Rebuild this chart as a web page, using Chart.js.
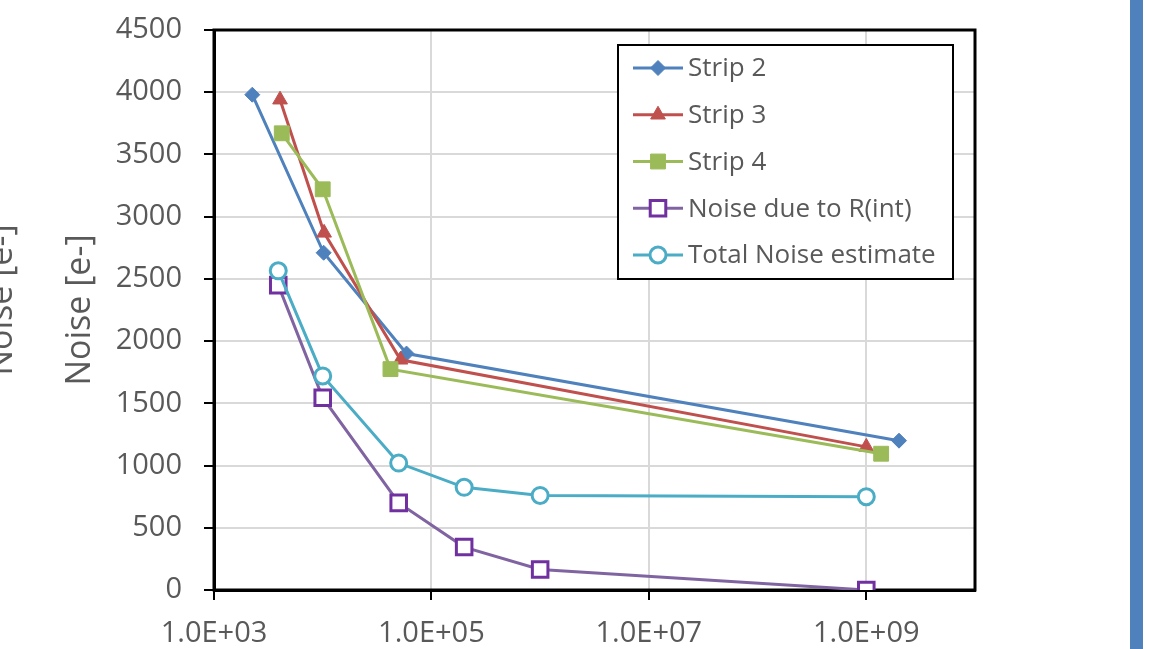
<!DOCTYPE html>
<html>
<head>
<meta charset="utf-8">
<script src="https://cdn.jsdelivr.net/npm/chart.js@4.4.1/dist/chart.umd.min.js"></script>
<style>
  html, body { margin: 0; padding: 0; background: #fff; overflow: hidden; }
  #wrap { position: relative; width: 1163px; height: 649px; }
  #bar { position: absolute; left: 1130px; top: 0; width: 13px; height: 649px; background: #4F81BD; }
</style>
</head>
<body>
<div id="wrap">
  <canvas id="noise-chart"></canvas>
  <div id="bar"></div>
</div>
<script>
// ============ DATA ============ //
const strip2X = [2.25e3, 1.02e4, 5.9e4, 2.0e9];
const strip2Y = [3980, 2710, 1900, 1200];

const strip3X = [4.05e3, 1.03e4, 5.2e4, 1.0e9];
const strip3Y = [3940, 2870, 1850, 1150];

const strip4X = [4.2e3, 1.0e4, 4.2e4, 1.37e9];
const strip4Y = [3670, 3220, 1775, 1095];

const noiseRX = [3.9e3, 1.0e4, 5.0e4, 2.0e5, 1.0e6, 1.0e9];
const noiseRY = [2450, 1545, 700, 345, 165, 0];

const totalX = [3.9e3, 1.0e4, 5.0e4, 2.0e5, 1.0e6, 1.0e9];
const totalY = [2565, 1720, 1020, 825, 760, 750];

const seriesNames = ["Strip 2", "Strip 3", "Strip 4", "Noise due to R(int)", "Total Noise estimate"];
const xTicks = [1e3, 1e5, 1e7, 1e9];
const yTitle = "Noise [e-]";

// ============ HELPERS ============ //
const pts = (xs, ys) => xs.map((x, i) => ({ x: x, y: ys[i] }));

const sci = (v) => {
  const e = Math.round(Math.log10(v));
  return (v / Math.pow(10, e)).toFixed(1) + "E+" + String(e).padStart(2, "0");
};

const FONT = "'Open Sans', 'Liberation Sans', sans-serif";
const GREY_TEXT = "#595959";

// ============ PLUGINS ============ //

// black frame round the plot area (top + right, axes do the rest)
const frame = {
  id: "frame",
  beforeDatasetsDraw(chart) {
    const { ctx, chartArea: a } = chart;
    ctx.save();
    ctx.strokeStyle = "#000";
    ctx.lineWidth = 3;
    ctx.strokeRect(a.left, a.top, a.right - a.left, a.bottom - a.top);
    ctx.restore();
  }
};

// legend box inside the plot, Excel style
const boxLegend = {
  id: "boxLegend",
  afterDraw(chart) {
    const { ctx, chartArea: a } = chart;
    const bx = a.right - 357, by = a.top + 15, bw = 335, bh = 234;
    ctx.save();
    ctx.fillStyle = "#fff";
    ctx.fillRect(bx, by, bw, bh);
    ctx.strokeStyle = "#000";
    ctx.lineWidth = 2;
    ctx.strokeRect(bx, by, bw, bh);

    chart.data.datasets.forEach((ds, i) => {
      const y = by + 23 + i * 46.75;
      ctx.strokeStyle = ds.borderColor;
      ctx.lineWidth = ds.borderWidth;
      ctx.beginPath();
      ctx.moveTo(bx + 15, y);
      ctx.lineTo(bx + 65, y);
      ctx.stroke();

      ctx.fillStyle = ds.pointBackgroundColor;
      ctx.strokeStyle = ds.pointBorderColor;
      ctx.lineWidth = ds.pointBorderWidth;
      Chart.helpers.drawPoint(ctx, {
        pointStyle: ds.pointStyle,
        radius: ds.pointRadius,
        rotation: 0,
        borderWidth: ds.pointBorderWidth
      }, bx + 40, y);

      ctx.fillStyle = GREY_TEXT;
      ctx.font = "26px " + FONT;
      ctx.textAlign = "left";
      ctx.textBaseline = "middle";
      ctx.fillText(ds.label, bx + 70, y + 1);
    });
    ctx.restore();
  }
};

// cut-off copy of the axis title at the very left edge
const ghostTitle = {
  id: "ghostTitle",
  afterDraw(chart) {
    const ctx = chart.ctx;
    ctx.save();
    ctx.translate(2, 300);
    ctx.rotate(-Math.PI / 2);
    ctx.fillStyle = GREY_TEXT;
    ctx.font = "34px " + FONT;
    ctx.textAlign = "center";
    ctx.textBaseline = "middle";
    ctx.fillText(yTitle, 0, 0);
    ctx.restore();
  }
};

// ============ CHART ============ //
const noiseCanvas = document.getElementById("noise-chart");

const mkSet = (label, data, line, marker, style, radius, fill, bw, order) => ({
  label: label,
  data: data,
  showLine: true,
  borderColor: line,
  borderWidth: 3,
  pointStyle: style,
  pointRadius: radius,
  pointHoverRadius: radius,
  pointBackgroundColor: fill,
  pointBorderColor: marker,
  pointBorderWidth: bw,
  order: order
});

let noiseChart = new Chart(noiseCanvas, {
  type: "scatter",
  data: {
    datasets: [
      mkSet(seriesNames[0], pts(strip2X, strip2Y), "#4F81BD", "#4F81BD", "rectRot", 7.5, "#4F81BD", 1, 5),
      mkSet(seriesNames[1], pts(strip3X, strip3Y), "#C0504D", "#C0504D", "triangle", 8.5, "#C0504D", 1, 4),
      mkSet(seriesNames[2], pts(strip4X, strip4Y), "#9BBB59", "#9BBB59", "rect", 10.5, "#9BBB59", 1, 3),
      mkSet(seriesNames[3], pts(noiseRX, noiseRY), "#8064A2", "#7030A0", "rect", 11, "#fff", 3, 2),
      mkSet(seriesNames[4], pts(totalX, totalY), "#4BACC6", "#4BACC6", "circle", 8, "#fff", 3, 1)
    ]
  },
  options: {
    responsive: true,
    maintainAspectRatio: false,
    animation: false,
    layout: { padding: { left: 0, top: 30, right: 188, bottom: 0 } },
    plugins: {
      legend: { display: false },
      tooltip: { enabled: false }
    },
    scales: {
      x: {
        type: "logarithmic",
        min: 1e3,
        max: 1e10,
        afterBuildTicks: (scale) => {
          scale.ticks = xTicks.map((v) => ({ value: v }));
        },
        afterFit: (scale) => {
          scale.height = 59;
          scale.paddingLeft = 0;
          scale.paddingRight = 0;
        },
        border: { color: "#000", width: 3 },
        grid: {
          color: "#D9D9D9",
          lineWidth: 2,
          tickColor: "#000",
          tickLength: 10,
          tickWidth: 2
        },
        ticks: {
          autoSkip: false,
          maxRotation: 0,
          padding: 16,
          color: GREY_TEXT,
          font: { family: FONT, size: 29 },
          callback: (v) => sci(v)
        }
      },
      y: {
        min: 0,
        max: 4500,
        afterFit: (scale) => {
          scale.width = 214;
          scale.paddingTop = 0;
          scale.paddingBottom = 0;
        },
        border: { color: "#000", width: 3 },
        grid: {
          color: "#D9D9D9",
          lineWidth: 2,
          tickColor: "#000",
          tickLength: 10,
          tickWidth: 2
        },
        ticks: {
          stepSize: 500,
          padding: 22,
          color: GREY_TEXT,
          font: { family: FONT, size: 29 },
          callback: (v) => String(v)
        },
        title: {
          display: true,
          text: yTitle,
          color: GREY_TEXT,
          font: { family: FONT, size: 34 },
          padding: { top: 60, bottom: 0 }
        }
      }
    }
  },
  plugins: [frame, boxLegend, ghostTitle]
});
</script>
</body>
</html>
